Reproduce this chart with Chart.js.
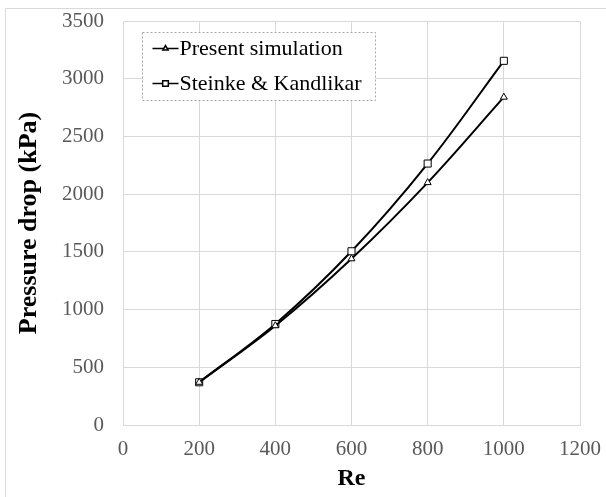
<!DOCTYPE html>
<html>
<head>
<meta charset="utf-8">
<script src="https://cdn.jsdelivr.net/npm/chart.js@4.4.1/dist/chart.umd.min.js"></script>
<style>
  html, body { margin: 0; padding: 0; background: #fff; }
  #wrap { width: 606px; height: 497px; position: relative; }
</style>
</head>
<body>
<div id="wrap"><canvas id="chart"></canvas></div>
<script>
const reValues = [200, 400, 600, 800, 1000];
const presentSim = [370, 860, 1440, 2100, 2840];
const steinkeKandlikar = [370, 875, 1505, 2265, 3155];
const seriesNames = ["Present simulation", "Steinke & Kandlikar"];

const serif = "'Liberation Serif', 'Times New Roman', serif";

function toPoints(values) {
  return reValues.map((x, i) => ({ x, y: values[i] }));
}

// frame of the chart area (only top and left edges show in the picture)
const framePlugin = {
  id: "frame",
  beforeDraw(chart) {
    const ctx = chart.ctx;
    ctx.save();
    ctx.strokeStyle = "#d9d9d9";
    ctx.lineWidth = 1;
    ctx.beginPath();
    ctx.moveTo(5.5, 497);
    ctx.lineTo(5.5, 8.5);
    ctx.lineTo(606, 8.5);
    ctx.stroke();
    ctx.restore();
  },
};

// legend box drawn inside the plot area
const boxLegend = {
  id: "boxLegend",
  afterDraw(chart) {
    const ctx = chart.ctx;
    const area = chart.chartArea;
    const left = Math.round(area.left) + 19.5;
    const top = Math.round(area.top) + 11.5;
    const w = 233;
    const h = 68;
    ctx.save();
    ctx.fillStyle = "#fff";
    ctx.fillRect(left, top, w, h);
    ctx.strokeStyle = "#a6a6a6";
    ctx.setLineDash([2, 2]);
    ctx.lineWidth = 1;
    ctx.strokeRect(left, top, w, h);
    ctx.setLineDash([]);

    chart.data.datasets.forEach((ds, i) => {
      const cy = top + 16 + i * 35;
      const x0 = left + 10;
      ctx.strokeStyle = "#000";
      ctx.lineWidth = 1.5;
      ctx.beginPath();
      ctx.moveTo(x0, cy);
      ctx.lineTo(x0 + 26, cy);
      ctx.stroke();
      ctx.fillStyle = "#fff";
      Chart.helpers.drawPoint(ctx, {
        pointStyle: ds.pointStyle,
        radius: ds.pointRadius - 1,
        borderWidth: 1,
      }, x0 + 13, cy);
      ctx.fillStyle = "#000";
      ctx.font = "22px " + serif;
      ctx.textBaseline = "middle";
      ctx.fillText(ds.label, x0 + 27, cy + 1);
    });
    ctx.restore();
  },
};

const ctx = document.getElementById("chart").getContext("2d");

new Chart(ctx, {
  type: "scatter",
  data: {
    datasets: [
      {
        label: seriesNames[0],
        data: toPoints(presentSim),
        showLine: true,
        borderColor: "#000",
        backgroundColor: "#fff",
        borderWidth: 2,
        tension: 0.35,
        pointStyle: "triangle",
        pointRadius: 4,
        pointBorderColor: "#000",
        pointBackgroundColor: "#fff",
        pointBorderWidth: 1,
      },
      {
        label: seriesNames[1],
        data: toPoints(steinkeKandlikar),
        showLine: true,
        borderColor: "#000",
        backgroundColor: "#fff",
        borderWidth: 2,
        tension: 0.35,
        pointStyle: "rect",
        pointRadius: 5,
        pointBorderColor: "#000",
        pointBackgroundColor: "#fff",
        pointBorderWidth: 1,
      },
    ],
  },
  options: {
    responsive: true,
    maintainAspectRatio: false,
    animation: false,
    layout: { padding: { top: 21, right: 26, left: 0, bottom: 0 } },
    plugins: {
      legend: { display: false },
      tooltip: { enabled: false },
    },
    scales: {
      x: {
        type: "linear",
        min: 0,
        max: 1200,
        afterFit(scale) {
          scale.height = 72;
          scale.paddingLeft = 0;
          scale.paddingRight = 0;
        },
        ticks: {
          stepSize: 200,
          color: "#595959",
          font: { family: serif, size: 21 },
          padding: 12,
          callback: (v) => String(v),
        },
        grid: { color: "#d9d9d9", drawTicks: false },
        border: { color: "#d9d9d9" },
        title: {
          display: true,
          text: "Re",
          color: "#000",
          font: { family: serif, size: 24, weight: "bold" },
          padding: { top: 0 },
        },
      },
      y: {
        min: 0,
        max: 3500,
        afterFit(scale) {
          scale.width = 123;
          scale.paddingTop = 0;
          scale.paddingBottom = 0;
        },
        ticks: {
          stepSize: 500,
          color: "#595959",
          font: { family: serif, size: 21 },
          padding: 19,
          callback: (v) => String(v),
        },
        grid: { color: "#d9d9d9", drawTicks: false },
        border: { color: "#d9d9d9" },
        title: {
          display: true,
          text: "Pressure drop (kPa)",
          color: "#000",
          font: { family: serif, size: 26, weight: "bold" },
          padding: { top: 14, bottom: 0 },
        },
      },
    },
  },
  plugins: [framePlugin, boxLegend],
});
</script>
</body>
</html>
